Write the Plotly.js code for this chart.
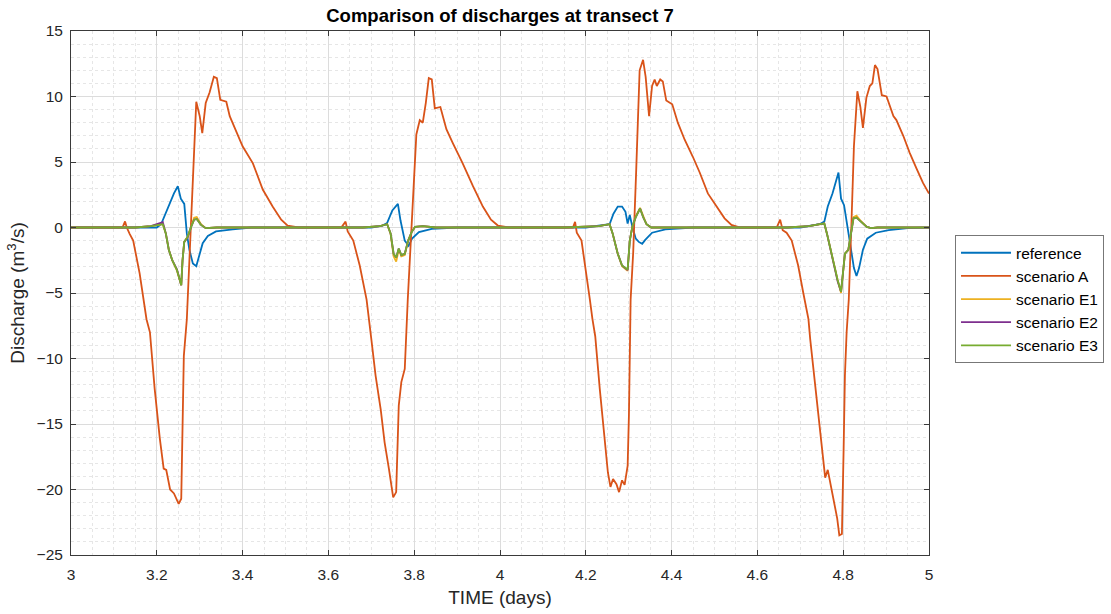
<!DOCTYPE html>
<html>
<head>
<meta charset="utf-8">
<script src="https://cdn.plot.ly/plotly-3.0.1.min.js"></script>
<style>html,body{margin:0;padding:0;background:#fff;}#chart{width:1111px;height:614px;}</style>
</head>
<body>
<div id="chart"></div>
<script>
// reference
const timeRef = [3,3.2,3.21,3.217,3.228,3.24,3.249,3.256,3.264,3.27,3.276,3.284,3.292,3.30,3.307,3.319,3.338,3.377,3.42,
  3.7,3.726,3.737,3.749,3.762,3.768,3.778,3.787,3.795,3.811,3.841,3.9,
  4.2,4.2555,4.2645,4.2745,4.2845,4.2925,4.2975,4.3025,4.3085,4.3165,4.3235,4.3315,4.3385,4.3545,4.3855,4.45,
  4.7,4.745,4.756,4.764,4.775,4.789,4.795,4.802,4.81,4.818,4.825,4.831,4.837,4.846,4.856,4.876,4.906,4.95,5];
const qRef = [0,0,0.25,0.8,1.8,2.6,3.15,2.2,1.8,-0.45,-1.7,-2.75,-2.95,-2.0,-1.2,-0.65,-0.3,-0.15,0,
  0,0.15,0.35,1.3,1.8,0.55,-1.0,-1.4,-0.85,-0.35,-0.1,0,
  0,0.25,1.05,1.6,1.6,1.2,0.3,0.95,0.05,-0.85,-1.1,-1.25,-0.95,-0.4,-0.15,0,
  0,0.25,0.45,1.6,2.6,4.2,2.2,1.7,0.05,-1.7,-3.1,-3.7,-3.1,-1.7,-0.85,-0.4,-0.2,-0.05,0];

// scenario A
const timeA = [3,3.12,3.126,3.13,3.137,3.145,3.16,3.176,3.184,3.195,3.207,3.216,3.222,3.231,3.24,3.251,3.257,3.263,3.27,3.292,3.30,3.306,3.314,3.323,3.333,3.34,3.348,3.362,3.37,3.40,3.424,3.447,3.47,3.49,3.505,3.53,
  3.63,3.64,3.645,3.658,3.673,3.689,3.70,3.71,3.722,3.731,3.741,3.751,3.758,3.764,3.77,3.778,3.785,3.793,3.801,3.805,3.813,3.82,3.827,3.834,3.841,3.848,3.861,3.875,3.89,3.913,3.937,3.96,3.979,3.995,4.02,
  4.17,4.175,4.179,4.19,4.2015,4.2095,4.2155,4.222,4.2325,4.2445,4.2515,4.2575,4.2635,4.2715,4.2775,4.2845,4.2905,4.2975,4.3005,4.3045,4.3105,4.3175,4.3255,4.3335,4.3395,4.3475,4.3545,4.3605,4.3655,4.3735,4.3795,4.3875,4.4015,4.4145,4.4305,4.4495,4.4655,4.4845,4.5045,4.5235,4.5395,4.56,
  4.645,4.653,4.659,4.668,4.68,4.695,4.707,4.719,4.723,4.734,4.746,4.754,4.758,4.764,4.771,4.779,4.786,4.791,4.797,4.801,4.804,4.808,4.813,4.819,4.825,4.833,4.84,4.846,4.854,4.862,4.868,4.874,4.88,4.89,4.901,4.917,4.924,4.94,4.955,4.971,4.986,5.0];
const qA = [0,0,0.46,0,-0.5,-1.0,-3.5,-7.0,-8.0,-12.3,-16.1,-18.4,-18.5,-20.0,-20.3,-21.1,-20.7,-9.8,-7.0,9.6,8.5,7.2,9.5,10.3,11.5,11.4,9.75,9.6,8.5,6.2,4.9,2.9,1.6,0.6,0.15,0,
  0,0.45,-0.3,-1.0,-2.9,-5.5,-8.5,-11.3,-13.9,-16.4,-18.4,-20.6,-20.2,-13.6,-11.8,-10.8,-5.5,-0.4,5.2,7.1,8.2,8.0,9.5,11.4,11.3,9.1,9.2,7.5,6.45,4.9,3.15,1.6,0.6,0.15,0,
  0,0.43,-0.4,-1.0,-3.45,-5.5,-7.0,-8.3,-12.3,-16.4,-18.7,-19.8,-19.2,-19.6,-20.2,-19.3,-19.65,-18.2,-14.4,-5.5,-1.9,4.4,12.0,12.8,11.5,8.5,10.8,11.3,10.8,11.3,11.15,9.7,9.4,8.0,6.7,5.4,4.2,2.6,1.6,0.7,0.2,0,
  0,0.6,-0.2,-0.4,-1.0,-2.9,-5.0,-7.0,-8.5,-11.8,-15.1,-17.7,-19.1,-18.5,-19.7,-21.2,-22.2,-23.5,-23.4,-16.9,-11.3,-8.0,-5.5,0.1,6.2,10.4,9.2,7.6,9.9,10.8,11.0,12.4,12.1,10.1,10.0,8.5,8.2,7.0,5.7,4.5,3.4,2.6];

// scenarios E1, E2, E3 (shared time axis)
const timeE = [3,3.15,3.186,3.214,3.221,3.228,3.236,3.247,3.257,3.26,3.264,3.272,3.28,3.287,3.293,3.303,3.314,3.34,
  3.68,3.72,3.737,3.745,3.752,3.758,3.764,3.77,3.778,3.786,3.794,3.802,3.82,3.85,
  4.15,4.23,4.2555,4.2625,4.2745,4.2845,4.2975,4.3025,4.3085,4.3165,4.3265,4.3335,4.3415,4.3525,
  4.67,4.72,4.745,4.756,4.762,4.769,4.78,4.787,4.795,4.8,4.804,4.812,4.821,4.824,4.831,4.841,4.855,4.865,4.88,5];
const qE1 = [0,0,0.1,0.25,-0.45,-1.7,-2.5,-3.3,-4.4,-2.5,-1.1,-0.7,0.1,0.75,0.8,0.25,-0.05,0,
  0,0.1,0.25,-0.5,-2.2,-2.6,-1.7,-2.2,-2.1,-1.0,-0.35,0.05,0.1,0,
  0,0.1,0.25,-0.45,-2.0,-2.95,-3.3,-1.0,0.05,0.85,1.5,0.85,0.25,0,
  0,0.1,0.25,0.3,-0.45,-1.5,-3.0,-4.0,-5.0,-3.0,-2.0,-1.7,0,0.8,0.9,0.5,0.05,-0.05,0,0];
const qE2 = [0,0,0.1,0.4,-0.45,-1.7,-2.5,-3.2,-4.4,-2.5,-1.1,-0.75,0.05,0.6,0.65,0.2,-0.05,0,
  0,0.1,0.25,-0.45,-2.0,-2.3,-1.6,-2.1,-2.0,-1.0,-0.35,0.05,0.1,0,
  0,0.1,0.25,-0.45,-2.0,-2.9,-3.25,-1.0,0.05,0.8,1.45,0.8,0.25,0,
  0,0.1,0.25,0.3,-0.45,-1.5,-3.0,-4.1,-4.9,-3.0,-2.0,-1.7,0,0.7,0.75,0.45,0.05,-0.05,0,0];
const qE3 = [0,0,0.1,0.25,-0.45,-1.7,-2.5,-3.25,-4.4,-2.5,-1.1,-0.7,0.05,0.6,0.65,0.2,-0.05,0,
  0,0.1,0.25,-0.45,-2.0,-2.3,-1.6,-2.1,-2.0,-1.0,-0.35,0.05,0.1,0,
  0,0.1,0.25,-0.45,-2.0,-2.9,-3.2,-1.0,0.05,0.8,1.45,0.8,0.25,0,
  0,0.1,0.25,0.3,-0.45,-1.5,-3.0,-4.0,-4.9,-3.0,-2.0,-1.7,0,0.7,0.75,0.45,0.05,-0.05,0,0];

const seriesNames = ['reference','scenario A','scenario E1','scenario E2','scenario E3'];
const seriesColors = ['#0072BD','#D95319','#EDB120','#7E2F8E','#77AC30'];

const lists = [
  [timeRef, qRef], [timeA, qA], [timeE, qE1], [timeE, qE2], [timeE, qE3]
];
const traces = lists.map((p, i) => ({
  type: 'scatter', mode: 'lines', x: p[0], y: p[1], name: seriesNames[i],
  line: {color: seriesColors[i], width: 1.8}
}));

const font = 'Liberation Sans, Arial, Helvetica, sans-serif';
const axisCommon = {
  showline: true, mirror: 'allticks', linecolor: '#3a3a3a', linewidth: 1,
  ticks: 'inside', ticklen: 5, tickcolor: '#3a3a3a',
  showgrid: true, gridcolor: '#dcdcdc', gridwidth: 1,
  zeroline: false, automargin: false,
  tickfont: {family: font, size: 15.5, color: '#262626'}
};

const layout = {
  width: 1111, height: 614,
  margin: {l: 71, r: 182, t: 31, b: 59, autoexpand: false},
  paper_bgcolor: '#ffffff', plot_bgcolor: '#ffffff',
  title: {text: '<b>Comparison of discharges at transect 7</b>', x: 0.5, xref: 'paper', y: 0.985, yanchor: 'top',
    font: {family: font, size: 18.5, color: '#000000'}},
  xaxis: Object.assign({}, axisCommon, {
    range: [3, 5], dtick: 0.2, tick0: 3, ticklabelstandoff: 5,
    minor: {dtick: 0.05, showgrid: true, gridcolor: '#e6e6e6', griddash: 'dot', ticks: ''},
    title: {text: 'TIME (days)', font: {family: font, size: 19, color: '#262626'}, standoff: 9}
  }),
  yaxis: Object.assign({}, axisCommon, {
    range: [-25, 15], dtick: 5, tick0: 0, ticklabelstandoff: 4,
    minor: {dtick: 1, showgrid: true, gridcolor: '#e6e6e6', griddash: 'dot', ticks: ''},
    title: {text: 'Discharge (m<sup>3</sup>/s)', font: {family: font, size: 19, color: '#262626'}, standoff: 6}
  }),
  showlegend: true,
  legend: {xref: 'container', yref: 'container', x: 0.8596, xanchor: 'left', y: 0.617, yanchor: 'top',
    bgcolor: '#ffffff', bordercolor: '#777777', borderwidth: 1,
    font: {family: font, size: 15.5, color: '#000000'}, itemwidth: 50, tracegroupgap: 0}
};

Plotly.newPlot('chart', traces, layout, {displayModeBar: false, staticPlot: true});
</script>
</body>
</html>
